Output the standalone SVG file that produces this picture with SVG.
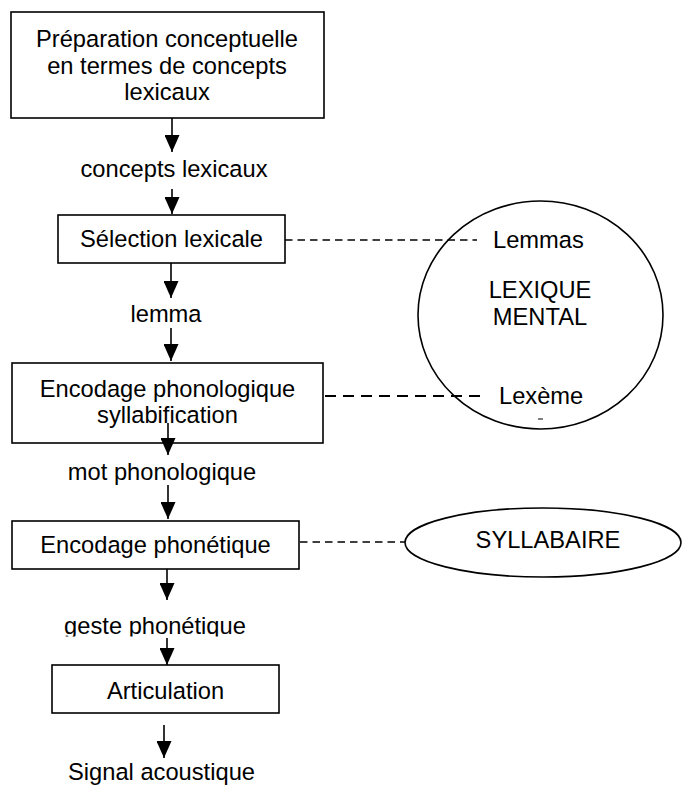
<svg xmlns="http://www.w3.org/2000/svg" width="682" height="787" viewBox="0 0 682 787">
  <style>
    .box { fill: #fff; stroke: #000; stroke-width: 1.6; }
    .t { font-family: "Liberation Sans", Arial, sans-serif; font-size: 23.7px; fill: #000; text-anchor: middle; }
    .ts { text-anchor: start; }
    .flow { stroke: #000; stroke-width: 1.6; fill: none; marker-end: url(#arrow); }
    .dash { stroke: #000; stroke-width: 1.3; stroke-dasharray: 7.5 5; fill: none; }
    .dash-bold { stroke: #000; stroke-width: 2; stroke-dasharray: 11 7; fill: none; }
    .store { fill: none; stroke: #000; stroke-width: 1.6; }
  </style>
  <defs>
    <marker id="arrow" viewBox="0 0 17 15" refX="17" refY="7.5" markerWidth="17" markerHeight="15" markerUnits="userSpaceOnUse" orient="auto">
      <path d="M0,0 L17,7.5 L0,15 Z" fill="#000"/>
    </marker>
    <clipPath id="clip-geste">
      <rect x="0" y="600" width="682" height="36.5"/>
    </clipPath>
  </defs>
  <rect width="682" height="787" fill="#fff"/>

  <g id="preparation">
    <rect class="box" x="11" y="12" width="313" height="106"/>
    <text class="t" x="167" y="47">Préparation conceptuelle</text>
    <text class="t" x="167" y="74">en termes de concepts</text>
    <text class="t" x="167" y="100">lexicaux</text>
  </g>

  <g id="selection">
    <rect class="box" x="58" y="215" width="227" height="48"/>
    <text class="t" x="171.5" y="247">Sélection lexicale</text>
  </g>

  <g id="phonologique">
    <rect class="box" x="12" y="363" width="311" height="80"/>
    <text class="t" x="167.5" y="397">Encodage phonologique</text>
    <text class="t" x="167.5" y="423">syllabification</text>
  </g>

  <g id="phonetique">
    <rect class="box" x="12" y="521" width="287" height="48"/>
    <text class="t" x="155.5" y="553">Encodage phonétique</text>
  </g>

  <g id="articulation">
    <rect class="box" x="52" y="665" width="227" height="48"/>
    <text class="t" x="165.5" y="699">Articulation</text>
  </g>

  <g id="lexique">
    <ellipse class="store" cx="540.5" cy="315" rx="122.5" ry="114"/>
    <text class="t ts" x="493" y="248">Lemmas</text>
    <text class="t" x="540" y="298">LEXIQUE</text>
    <text class="t" x="540" y="325">MENTAL</text>
    <text class="t ts" x="499" y="404">Lexème</text>
    <line x1="538" y1="419" x2="543" y2="419" stroke="#000" stroke-width="1"/>
  </g>

  <g id="syllabaire">
    <ellipse class="store" cx="543" cy="542.5" rx="138" ry="34.5"/>
    <text class="t" x="548" y="548">SYLLABAIRE</text>
  </g>

  <!-- flow labels -->
  <g id="labels">
    <text class="t" x="174" y="177">concepts lexicaux</text>
    <text class="t" x="166" y="322">lemma</text>
    <text class="t" x="162" y="480">mot phonologique</text>
    <text class="t" x="155" y="634" clip-path="url(#clip-geste)">geste phonétique</text>
    <text class="t" x="161.5" y="780">Signal acoustique</text>
  </g>

  <!-- connectors, drawn last so the phonological arrow shows inside its box -->
  <g id="connectors">
    <line class="flow" x1="172" y1="118" x2="172" y2="152"/>
    <line class="flow" x1="172" y1="189" x2="172" y2="214"/>
    <line class="flow" x1="171" y1="263" x2="171" y2="298"/>
    <line class="flow" x1="171" y1="328" x2="171" y2="361"/>
    <line class="flow" x1="168" y1="423" x2="168" y2="455"/>
    <line class="flow" x1="168" y1="485" x2="168" y2="519"/>
    <line class="flow" x1="167" y1="569" x2="167" y2="600"/>
    <line class="flow" x1="167" y1="638" x2="167" y2="665"/>
    <line class="flow" x1="164" y1="725" x2="164" y2="758"/>
    <line class="dash" x1="285" y1="240" x2="477" y2="240"/>
    <line class="dash-bold" x1="325" y1="396" x2="484" y2="396"/>
    <line class="dash" x1="300" y1="542" x2="405" y2="542"/>
  </g>
</svg>
